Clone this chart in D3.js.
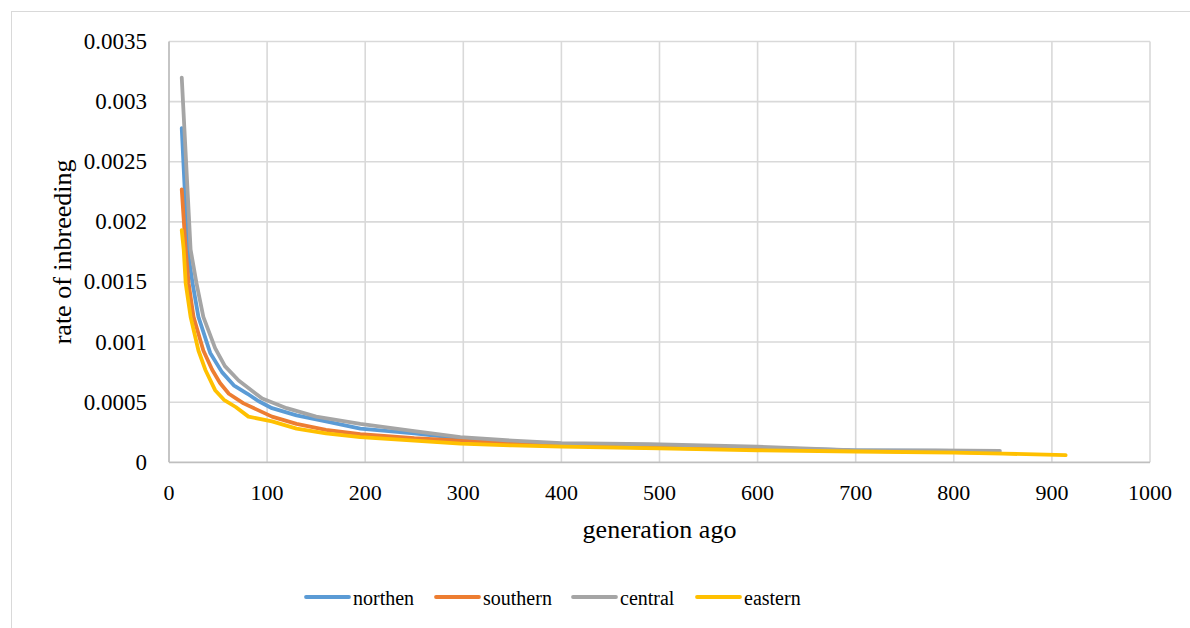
<!DOCTYPE html>
<html><head><meta charset="utf-8">
<script src="https://cdn.jsdelivr.net/npm/d3@7"></script>
<style>body{margin:0;background:#fff}svg{display:block}text{font-family:"Liberation Serif","Times New Roman",serif;fill:#000}</style>
</head><body><svg id="c" width="1190" height="628"></svg>
<script>
const seriesNames = ["northen", "southern", "central", "eastern"];
const seriesColors = ["#5b9bd5", "#ed7d31", "#a5a5a5", "#ffc000"];

const northenGen = [13, 19, 24, 30, 42, 54, 66, 80, 91, 105, 130, 160, 195, 250, 297, 350, 400, 500, 600, 700, 800, 845];
const northenVal = [0.00278, 0.00177, 0.00149, 0.00121, 0.00091, 0.00075, 0.00064, 0.00057, 0.00051, 0.00045, 0.00039, 0.00034, 0.00028, 0.00024, 0.00020, 0.00017, 0.00015, 0.00014, 0.00012, 0.000100, 0.000095, 0.000092];

const southernGen = [13, 17, 20, 25, 35, 44, 52, 61, 76, 105, 130, 160, 195, 250, 297, 350, 400, 500, 600, 700, 800, 845];
const southernVal = [0.00227, 0.00177, 0.00149, 0.00121, 0.00093, 0.00077, 0.00066, 0.00057, 0.00049, 0.00038, 0.00032, 0.00027, 0.000235, 0.00020, 0.00018, 0.00016, 0.00014, 0.00012, 0.00011, 0.000095, 0.000085, 0.00008];

const centralGen = [13, 22, 28, 35, 47, 57, 71, 95, 120, 150, 195, 250, 297, 350, 400, 490, 600, 694, 780, 847];
const centralVal = [0.00320, 0.00177, 0.00149, 0.00121, 0.00095, 0.00080, 0.00068, 0.00053, 0.00045, 0.00038, 0.00032, 0.00026, 0.00021, 0.00018, 0.00016, 0.00015, 0.00013, 0.000102, 0.000098, 0.000094];

const easternGen = [13, 15, 17, 22, 30, 37, 47, 56, 68, 81, 105, 130, 160, 195, 250, 297, 350, 400, 500, 600, 700, 800, 850, 914];
const easternVal = [0.00193, 0.00177, 0.00149, 0.00121, 0.00093, 0.00077, 0.00060, 0.00052, 0.00046, 0.00038, 0.00034, 0.00028, 0.00024, 0.00021, 0.00018, 0.000155, 0.00014, 0.00013, 0.000116, 0.0001, 0.00009, 0.00008, 0.000072, 0.00006];

const xTicks = [0, 100, 200, 300, 400, 500, 600, 700, 800, 900, 1000];
const yTicks = [0, 0.0005, 0.001, 0.0015, 0.002, 0.0025, 0.003, 0.0035];
const yTickLabels = ["0", "0.0005", "0.001", "0.0015", "0.002", "0.0025", "0.003", "0.0035"];

const gens = [northenGen, southernGen, centralGen, easternGen];
const vals = [northenVal, southernVal, centralVal, easternVal];

const svg = d3.select("#c");
const L = 169, R = 1150, T = 41.5, B = 462.3;
const x = d3.scaleLinear().domain([0, 1000]).range([L, R]);
const y = d3.scaleLinear().domain([0, 0.0035]).range([B, T]);

// outer frame
svg.append("rect").attr("x", 11.5).attr("y", 11.5).attr("width", 1300).attr("height", 700)
  .attr("fill", "none").attr("stroke", "#d9d9d9").attr("stroke-width", 1);

// gridlines
const g = svg.append("g");
g.selectAll(".gx").data(xTicks.filter(d => d > 0)).enter().append("line")
  .attr("x1", d => x(d)).attr("x2", d => x(d)).attr("y1", T).attr("y2", B)
  .attr("stroke", "#d9d9d9").attr("stroke-width", 1.6);
g.selectAll(".gy").data(yTicks.filter(d => d > 0)).enter().append("line")
  .attr("x1", L).attr("x2", R).attr("y1", d => y(d)).attr("y2", d => y(d))
  .attr("stroke", "#d9d9d9").attr("stroke-width", 1.6);

// axes lines
svg.append("line").attr("x1", L).attr("x2", R).attr("y1", B).attr("y2", B).attr("stroke", "#bfbfbf").attr("stroke-width", 1.8);
svg.append("line").attr("x1", L).attr("x2", L).attr("y1", T).attr("y2", B).attr("stroke", "#bfbfbf").attr("stroke-width", 1.8);

// tick labels
svg.selectAll(".xt").data(xTicks).enter().append("text")
  .attr("x", d => x(d)).attr("y", 500).attr("text-anchor", "middle").attr("font-size", 22).text(d => d);
svg.selectAll(".yt").data(yTicks).enter().append("text")
  .attr("x", 147).attr("y", d => y(d) + 7.5).attr("text-anchor", "end").attr("font-size", 23)
  .text((d, i) => yTickLabels[i]);

// axis titles
svg.append("text").attr("x", x(500)).attr("y", 538).attr("text-anchor", "middle").attr("font-size", 26).text("generation ago");
svg.append("text").attr("transform", `translate(71,${(T + B) / 2}) rotate(-90)`).attr("text-anchor", "middle").attr("font-size", 26).text("rate of inbreeding");

// lines
const line = d3.line().x(d => x(d[0])).y(d => y(d[1]));
seriesNames.forEach((name, i) => {
  const pts = gens[i].map((gv, j) => [gv, vals[i][j]]);
  svg.append("path").datum(pts).attr("d", line).attr("fill", "none")
    .attr("stroke", seriesColors[i]).attr("stroke-width", 3.8)
    .attr("stroke-linejoin", "round").attr("stroke-linecap", "round");
});

// legend
const legX = [306, 436, 573, 697];
const leg = svg.append("g");
seriesNames.forEach((name, i) => {
  leg.append("line").attr("x1", legX[i]).attr("x2", legX[i] + 43).attr("y1", 597).attr("y2", 597)
    .attr("stroke", seriesColors[i]).attr("stroke-width", 3.8).attr("stroke-linecap", "round");
  leg.append("text").attr("x", legX[i] + 47).attr("y", 604.5).attr("font-size", 20).text(name);
});
</script></body></html>
